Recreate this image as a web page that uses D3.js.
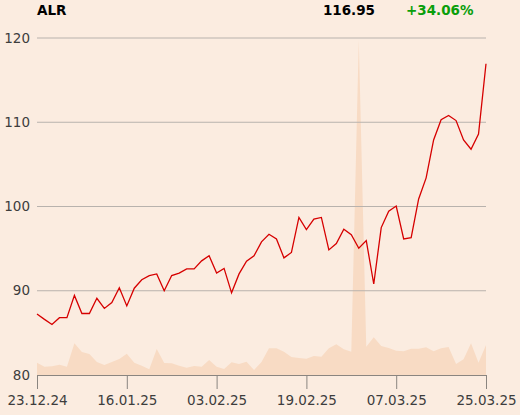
<!DOCTYPE html>
<html>
<head>
<meta charset="utf-8">
<script src="https://cdn.jsdelivr.net/npm/d3@7"></script>
<style>
  html, body { margin: 0; padding: 0; background: #fbece0; }
  svg { display: block; font-family: "DejaVu Sans", sans-serif; }
</style>
</head>
<body>
<div class="chart"></div>
<script>
// ALR daily closes, 23.12.24 - 25.03.25
const ticker = 'ALR'
const closes = [
  87.24, 86.6, 86.0, 86.8, 86.8, 89.45, 87.3, 87.3, 89.1, 87.9,
  88.6, 90.35, 88.2, 90.3, 91.3, 91.8, 92.0, 90.0, 91.8, 92.1,
  92.6, 92.6, 93.55, 94.15, 92.1, 92.65, 89.75, 92.0, 93.5, 94.15,
  95.8, 96.7, 96.15, 93.9, 94.55, 98.7, 97.25, 98.5, 98.7, 94.85,
  95.6, 97.3, 96.65, 95.05, 95.95, 90.8, 97.5, 99.45, 100.05, 96.15,
  96.3, 100.9, 103.4, 107.9, 110.3, 110.8, 110.2, 107.9, 106.8, 108.6,
  116.95
]
// объём торгов (отн. единицы)
const volumes = [
  12.3, 8.3, 8.7, 10.3, 8.3, 31.7, 23, 21, 13, 10,
  13, 16, 21.3, 12.3, 9.3, 5.7, 26, 12, 11.7, 9.3,
  7.3, 9, 8.3, 15, 8.3, 6, 12.7, 11, 13.3, 5,
  13, 26.7, 26.7, 23.3, 18, 17, 16.3, 19, 18.3, 26.7,
  30.7, 25.7, 23.3, 335, 28.3, 37.7, 29, 27, 24.3, 23.7,
  26.3, 26.3, 27.7, 23.7, 26.7, 28, 11, 15.7, 31.7, 12.3,
  30
]
const tickIdx = [0, 12, 24, 36, 48, 60]
const tickLabels = ['23.12.24', '16.01.25', '03.02.25', '19.02.25', '07.03.25', '25.03.25']
const yTicks = [80, 90, 100, 110, 120]

const width = 520
const height = 415
const margin = { left: 37, right: 486, top: 38, bottom: 375 }

const svg = d3.select('.chart').append('svg')
  .attr('width', width)
  .attr('height', height)

svg.append('rect').attr('width', width).attr('height', height).attr('fill', '#fbece0')

const x = d3.scaleLinear().domain([0, closes.length - 1]).range([margin.left, margin.right])
const y = d3.scaleLinear().domain([80, 120]).range([margin.bottom, margin.top])
const yVol = d3.scaleLinear().domain([0, d3.max(volumes)]).range([margin.bottom, 40])

// объём - заливка
const volArea = d3.area()
  .x((d, i) => x(i))
  .y0(margin.bottom)
  .y1(d => yVol(d))
svg.append('path')
  .datum(volumes)
  .attr('d', volArea)
  .attr('fill', '#f8dbc4')

// сетка
svg.append('g')
  .selectAll('line')
  .data(yTicks.filter(d => d !== 80))
  .join('line')
  .attr('x1', margin.left)
  .attr('x2', margin.right)
  .attr('y1', d => y(d))
  .attr('y2', d => y(d))
  .attr('stroke', '#b8b2ad')
  .attr('stroke-width', 1)

// подписи оси Y
svg.append('g')
  .selectAll('text')
  .data(yTicks)
  .join('text')
  .attr('x', 30)
  .attr('y', d => y(d))
  .attr('dy', '0.35em')
  .attr('text-anchor', 'end')
  .attr('font-size', 13.5)
  .attr('fill', '#3d3d3d')
  .text(d => d)

// ось X
const xAxis = d3.axisBottom(x)
  .tickValues(tickIdx)
  .tickFormat((d, i) => tickLabels[i])
  .tickSize(14)
  .tickPadding(6)
const gx = svg.append('g')
  .attr('transform', `translate(0,${margin.bottom})`)
  .call(xAxis)
gx.select('.domain').attr('stroke', '#8a8580').attr('d', `M${margin.left},0.5H${margin.right}`)
gx.selectAll('.tick line').attr('stroke', '#8a8580')
gx.selectAll('.tick text')
  .attr('font-size', 13.5)
  .attr('font-family', '"DejaVu Sans", sans-serif')
  .attr('fill', '#3d3d3d')

// линия цены
const line = d3.line()
  .x((d, i) => x(i))
  .y(d => y(d))
svg.append('path')
  .datum(closes)
  .attr('d', line)
  .attr('fill', 'none')
  .attr('stroke', '#d60000')
  .attr('stroke-width', 1.3)

// заголовок
const last = closes[closes.length - 1]
const change = (last / closes[0] - 1) * 100
svg.append('text')
  .attr('x', 37).attr('y', 15)
  .attr('font-size', 13.5).attr('font-weight', 'bold').attr('fill', '#000')
  .text(ticker)
svg.append('text')
  .attr('x', 375).attr('y', 15)
  .attr('text-anchor', 'end')
  .attr('font-size', 13.5).attr('font-weight', 'bold').attr('fill', '#000')
  .text(last.toFixed(2))
svg.append('text')
  .attr('x', 406).attr('y', 15)
  .attr('font-size', 13.5).attr('font-weight', 'bold').attr('fill', '#0a9e0a')
  .text((change >= 0 ? '+' : '') + change.toFixed(2) + '%')
</script>
</body>
</html>
